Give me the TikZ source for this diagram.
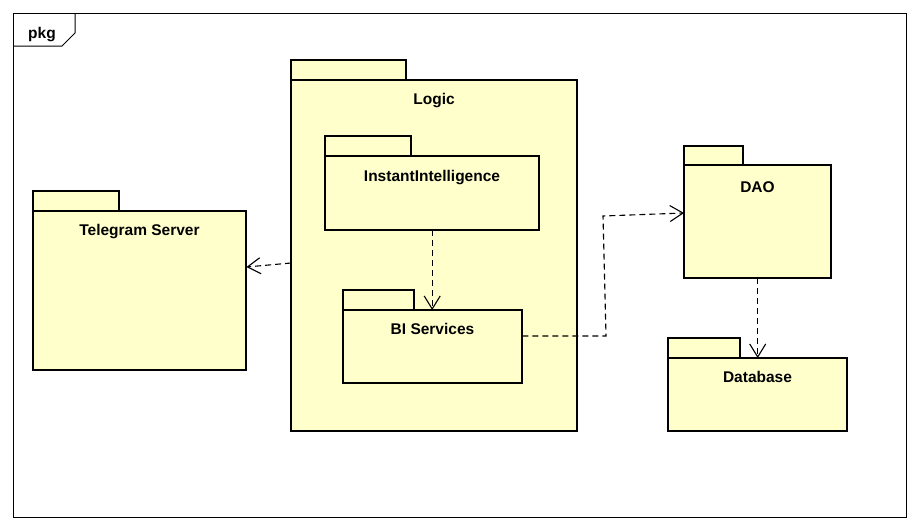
\documentclass[tikz,border=0pt]{standalone}
\usepackage{fontspec}
\setmainfont{Liberation Sans}
\usetikzlibrary{arrows.meta}
\definecolor{pkgfill}{RGB}{255,255,204}
\tikzset{
  x=1pt,y=-1pt,
  pkgline/.style={draw=black,line width=2.8pt,fill=pkgfill},
  lbl/.style={font=\fontsize{15.5}{18}\selectfont\bfseries,inner sep=0pt,anchor=base},
  dep/.style={draw=black,line width=1.1pt,dash pattern=on 6pt off 4pt,-{Straight Barb[length=13pt,width=16pt,line width=1.1pt]}},
}
\newcommand{\pkgbox}[9]{%
  % #1 name, #2 tab x1, #3 tab x2, #4 tab y1, #5 body y1, #6 body x2, #7 body y2, #8 label y, #9 label
  \path[pkgline] (#2,#4) rectangle (#3,#5);
  \path[pkgline] (#2,#5) rectangle (#6,#7);
  \node[inner sep=0pt,minimum width={#6-#2},minimum height={#7-#5},anchor=north west] (#1) at (#2,#5) {};
  \node[lbl] (#1-l) at ({(#2+#6)/2},#8) {#9};
}
\begin{document}
\begin{tikzpicture}
\path[fill=white] (0,0) rectangle (918,530);
\useasboundingbox (0,0) rectangle (918,530);
% frame
\draw[line width=1pt] (13,13) rectangle (906,517);
\draw[line width=1pt] (13,46) -- (62,46) -- (75,33) -- (75,13);
\node[lbl] (pkg) at (42,38) {pkg};
% packages
\pkgbox{telegram}{33}{119}{191}{211}{246}{370}{235}{Telegram Server}
\pkgbox{logic}{291}{406}{60}{80}{577}{431}{104}{Logic}
\pkgbox{ii}{325}{411}{136}{156}{539}{230}{181}{InstantIntelligence}
\pkgbox{bi}{343}{414}{290}{310}{522}{383}{334}{BI Services}
\pkgbox{dao}{684}{743}{146}{165}{831}{278}{192}{DAO}
\pkgbox{db}{668}{740}{338}{358}{847}{431}{382}{Database}
% dependencies
\coordinate (c1) at (606,336);
\coordinate (c2) at (603,216);
\draw[dep] (logic.west |- 0,263) -- (telegram.east |- 0,267);
\draw[dep] (ii.south) -- (ii.south |- bi.north);
\draw[dep] (bi.east |- c1) -- (c1) -- (c2) -- (dao.west |- 0,213);
\draw[dep] (dao.south) -- (dao.south |- db.north);
\end{tikzpicture}
\end{document}
